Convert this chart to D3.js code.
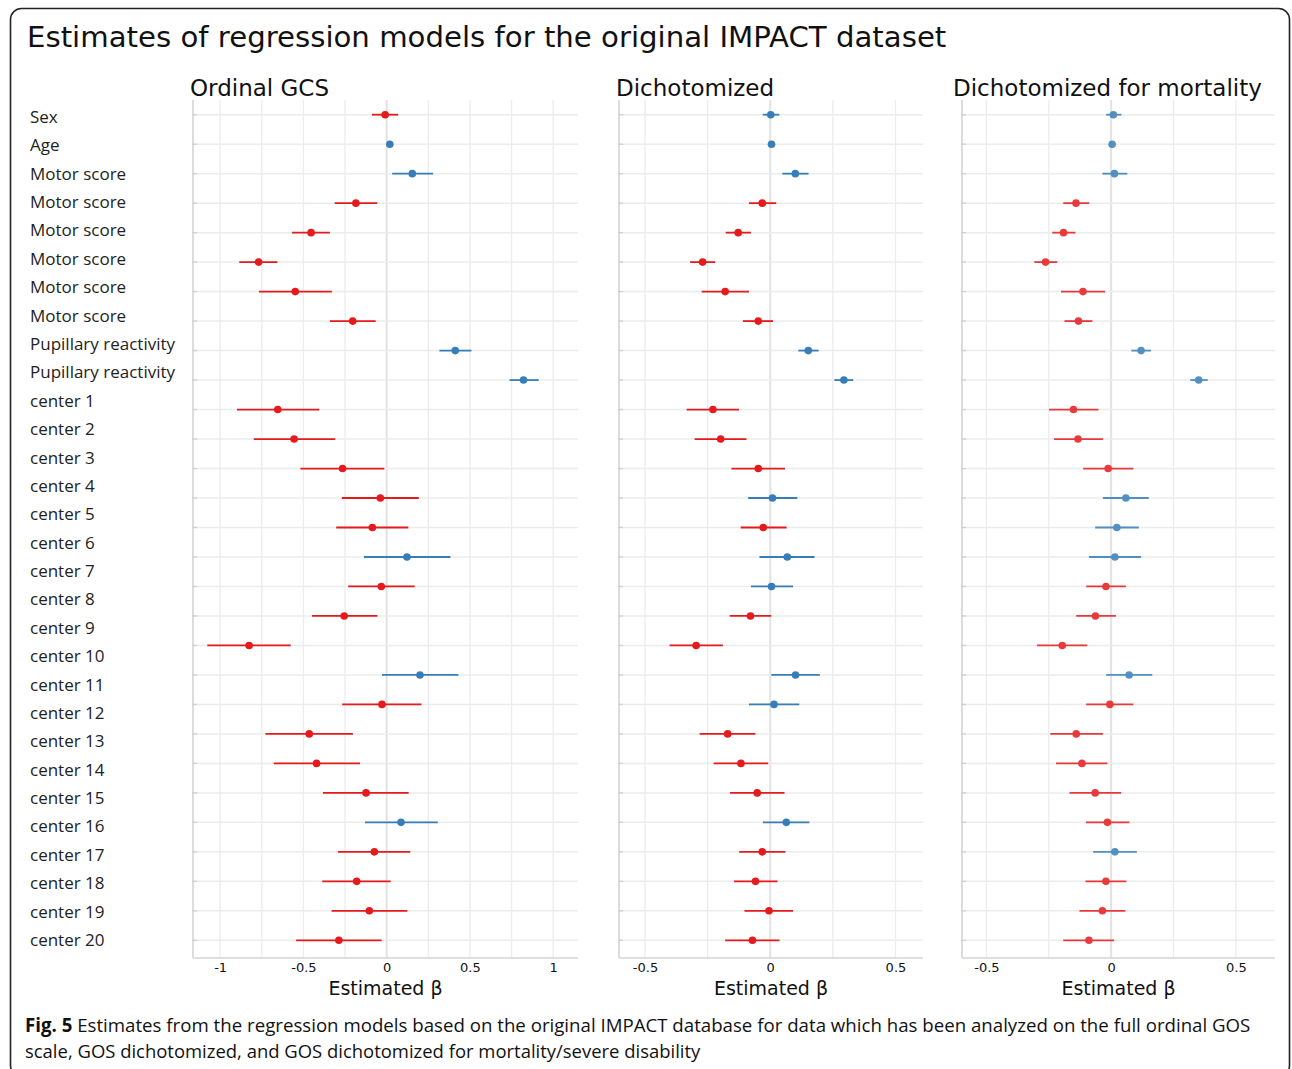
<!DOCTYPE html>
<html>
<head>
<meta charset="utf-8">
<script src="https://cdn.jsdelivr.net/npm/d3@7"></script>
<style>
  body { margin: 0; background: #fff; }
  text { fill: #111; }
</style>
</head>
<body>
<script>
// row labels as printed down the left side (30 labels; the panels hold 29 estimate rows)
var rowLabels = ["Sex", "Age", "Motor score", "Motor score", "Motor score", "Motor score",
  "Motor score", "Motor score", "Pupillary reactivity", "Pupillary reactivity",
  "center 1", "center 2", "center 3", "center 4", "center 5", "center 6", "center 7",
  "center 8", "center 9", "center 10", "center 11", "center 12", "center 13", "center 14",
  "center 15", "center 16", "center 17", "center 18", "center 19", "center 20"]

var panelTitles = ["Ordinal GCS", "Dichotomized", "Dichotomized for mortality"]
var xTicks1 = [-1, -0.5, 0, 0.5, 1]
var xTicks23 = [-0.5, 0, 0.5]

// Ordinal GCS
var gcsEst = [-0.009, 0.019, 0.154, -0.185, -0.454, -0.769, -0.549, -0.204, 0.412, 0.822,
  -0.654, -0.556, -0.265, -0.038, -0.086, 0.122, -0.032, -0.255, -0.826, 0.2,
  -0.028, -0.465, -0.421, -0.124, 0.086, -0.074, -0.18, -0.104, -0.287]
var gcsLo = [-0.088, 0.012, 0.033, -0.312, -0.568, -0.885, -0.767, -0.341, 0.317, 0.738,
  -0.899, -0.798, -0.518, -0.269, -0.303, -0.136, -0.231, -0.449, -1.077, -0.028,
  -0.267, -0.728, -0.678, -0.383, -0.13, -0.293, -0.387, -0.331, -0.544]
var gcsHi = [0.069, 0.026, 0.279, -0.057, -0.341, -0.656, -0.329, -0.066, 0.509, 0.913,
  -0.405, -0.309, -0.014, 0.193, 0.13, 0.383, 0.168, -0.056, -0.576, 0.431,
  0.209, -0.203, -0.16, 0.132, 0.307, 0.142, 0.024, 0.124, -0.03]

// Dichotomized
var dichEst = [0.002, 0.005, 0.10, -0.032, -0.128, -0.27, -0.18, -0.048, 0.152, 0.294,
  -0.229, -0.198, -0.048, 0.009, -0.028, 0.068, 0.005, -0.079, -0.296, 0.101,
  0.015, -0.17, -0.117, -0.052, 0.064, -0.032, -0.059, -0.005, -0.071]
var dichLo = [-0.03, 0.0, 0.048, -0.085, -0.178, -0.32, -0.274, -0.109, 0.112, 0.256,
  -0.334, -0.302, -0.155, -0.088, -0.118, -0.043, -0.077, -0.162, -0.402, 0.004,
  -0.085, -0.282, -0.226, -0.161, -0.029, -0.124, -0.145, -0.103, -0.18]
var dichHi = [0.036, 0.01, 0.153, 0.024, -0.077, -0.22, -0.085, 0.011, 0.193, 0.331,
  -0.125, -0.095, 0.059, 0.108, 0.065, 0.177, 0.091, 0.004, -0.189, 0.198,
  0.116, -0.059, -0.008, 0.057, 0.156, 0.06, 0.029, 0.091, 0.037]

// Dichotomized for mortality
var mortEst = [0.009, 0.004, 0.013, -0.141, -0.191, -0.263, -0.113, -0.131, 0.12, 0.351,
  -0.151, -0.133, -0.012, 0.059, 0.023, 0.015, -0.021, -0.063, -0.196, 0.072,
  -0.005, -0.14, -0.117, -0.064, -0.015, 0.015, -0.021, -0.035, -0.089]
var mortLo = [-0.02, 0.0, -0.035, -0.192, -0.236, -0.308, -0.201, -0.187, 0.081, 0.317,
  -0.249, -0.229, -0.112, -0.033, -0.064, -0.089, -0.1, -0.14, -0.297, -0.02,
  -0.1, -0.244, -0.221, -0.167, -0.101, -0.072, -0.103, -0.127, -0.192]
var mortHi = [0.041, 0.008, 0.065, -0.088, -0.143, -0.216, -0.024, -0.075, 0.16, 0.387,
  -0.051, -0.033, 0.089, 0.151, 0.111, 0.12, 0.059, 0.019, -0.096, 0.165,
  0.089, -0.033, -0.015, 0.04, 0.073, 0.103, 0.061, 0.057, 0.012]

var captionBold = "Fig. 5"
var captionLine1 = " Estimates from the regression models based on the original IMPACT database for data which has been analyzed on the full ordinal GOS"
var captionLine2 = "scale, GOS dichotomized, and GOS dichotomized for mortality/severe disability"

var RED = '#e41a1c', BLUE = '#377eb8'

var W = 1292, H = 1069

var svg = d3.select('body').append('svg').attr('width', W).attr('height', H)

// outer frame
svg.append('rect').attr('x', 10.5).attr('y', 8.5).attr('width', 1279).attr('height', 1068)
  .attr('rx', 11).attr('fill', 'none').attr('stroke', '#222').attr('stroke-width', 1.6)

svg.append('text').attr('x', 27).attr('y', 47)
  .style('font-family', 'DejaVu Sans').style('font-size', '29.2px')
  .text('Estimates of regression models for the original IMPACT dataset')

// left labels
var yLab = d3.scalePoint().domain(d3.range(rowLabels.length)).range([117, 940])
svg.append('g').selectAll('text').data(rowLabels).enter().append('text')
  .attr('x', 30).attr('y', function(d, i) { return yLab(i) }).attr('dy', '0.35em')
  .style('font-family', 'Open Sans').style('font-size', '17px').style('fill', '#222')
  .text(function(d) { return d })

var nRows = gcsEst.length
var y = d3.scalePoint().domain(d3.range(nRows)).range([97, 958]).padding(0.6)

var panels = [
  { title: panelTitles[0], est: gcsEst, lo: gcsLo, hi: gcsHi, domain: [-1.163, 1.149], range: [193, 578], labels: xTicks1, op: 1, tx: -3 },
  { title: panelTitles[1], est: dichEst, lo: dichLo, hi: dichHi, domain: [-0.604, 0.61], range: [619, 923], labels: xTicks23, op: 1, tx: -3 },
  { title: panelTitles[2], est: mortEst, lo: mortLo, hi: mortHi, domain: [-0.598, 0.657], range: [962, 1275], labels: xTicks23, op: 0.85, tx: -9 }
]

var yTop = 100, yBottom = 958

panels.forEach(function(p) {
  var x = d3.scaleLinear().domain(p.domain).range(p.range)
  var g = svg.append('g')

  // vertical grid every 0.25
  var grid = d3.range(Math.ceil(p.domain[0] / 0.25), Math.floor(p.domain[1] / 0.25) + 1).map(function(k) { return k * 0.25 })
  g.selectAll('.vg').data(grid).enter().append('line')
    .attr('x1', function(d) { return x(d) }).attr('x2', function(d) { return x(d) })
    .attr('y1', yTop).attr('y2', yBottom)
    .attr('stroke', function(d) { return d === 0 ? '#e2e2e2' : '#ececec' })
    .attr('stroke-width', function(d) { return d === 0 ? 2 : 1.3 })

  // horizontal grid per row
  g.selectAll('.hg').data(d3.range(nRows)).enter().append('line')
    .attr('x1', p.range[0]).attr('x2', p.range[1])
    .attr('y1', function(i) { return y(i) }).attr('y2', function(i) { return y(i) })
    .attr('stroke', '#ececec').attr('stroke-width', 1.5)

  // axis lines and ticks
  g.append('line').attr('x1', p.range[0]).attr('x2', p.range[0]).attr('y1', yTop).attr('y2', yBottom)
    .attr('stroke', '#d4d4d4').attr('stroke-width', 1.6)
  g.append('line').attr('x1', p.range[0]).attr('x2', p.range[1]).attr('y1', yBottom).attr('y2', yBottom)
    .attr('stroke', '#d4d4d4').attr('stroke-width', 1.6)
  g.selectAll('.yt').data(d3.range(nRows)).enter().append('line')
    .attr('x1', p.range[0] - 1).attr('x2', p.range[0] + 4)
    .attr('y1', function(i) { return y(i) }).attr('y2', function(i) { return y(i) })
    .attr('stroke', '#d0d0d0').attr('stroke-width', 1.3)

  var xAxis = d3.axisBottom(x).tickValues(p.labels).tickSize(0).tickPadding(5)
    .tickFormat(function(d) { return String(d) })
  var ax = g.append('g').attr('transform', 'translate(0,' + yBottom + ')').call(xAxis)
  ax.select('.domain').remove()
  ax.selectAll('text').style('font-family', 'DejaVu Sans').style('font-size', '13px').style('fill', '#111')

  g.append('text').attr('x', (p.range[0] + p.range[1]) / 2).attr('y', 995).attr('text-anchor', 'middle')
    .style('font-family', 'DejaVu Sans').style('font-size', '19px').text('Estimated β')

  g.append('text').attr('x', p.range[0] + p.tx).attr('y', 96)
    .style('font-family', 'DejaVu Sans').style('font-size', '23px').text(p.title)

  // estimates
  var rows = p.est.map(function(e, i) { return { i: i, est: e, lo: p.lo[i], hi: p.hi[i] } })
  var marks = g.append('g').attr('opacity', p.op)
  marks.selectAll('.ci').data(rows).enter().append('line')
    .attr('x1', function(d) { return x(d.lo) }).attr('x2', function(d) { return x(d.hi) })
    .attr('y1', function(d) { return y(d.i) }).attr('y2', function(d) { return y(d.i) })
    .attr('stroke', function(d) { return d.est > 0 ? BLUE : RED }).attr('stroke-width', 1.8)
  marks.selectAll('.pt').data(rows).enter().append('circle')
    .attr('cx', function(d) { return x(d.est) }).attr('cy', function(d) { return y(d.i) }).attr('r', 3.8)
    .attr('fill', function(d) { return d.est > 0 ? BLUE : RED })
})

// caption
var cap = svg.append('g').style('font-family', 'Open Sans').style('font-size', '19px')
var t1 = cap.append('text').attr('x', 25).attr('y', 1032)
t1.append('tspan').style('font-weight', 'bold').text(captionBold)
t1.append('tspan').text(captionLine1)
var t2 = cap.append('text').attr('x', 25).attr('y', 1058).text(captionLine2)

// squeeze caption lines to the printed widths (condensed face in the original)
function fitWidth(sel, target) {
  var w = sel.node().getComputedTextLength()
  var k = target / w
  sel.attr('transform', 'translate(25,0) scale(' + k + ',1) translate(-25,0)')
}
fitWidth(t1, 1226)
fitWidth(t2, 676)
</script>
</body>
</html>
